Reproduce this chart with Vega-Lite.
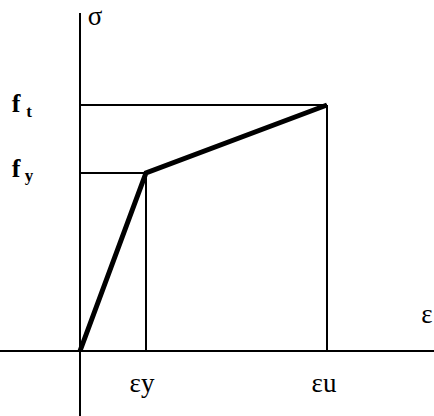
{
  "$schema": "https://vega.github.io/schema/vega-lite/v6.json",
  "width": 434,
  "height": 416,
  "autosize": "none",
  "padding": 0,
  "background": "white",
  "config": {"view": {"stroke": null}},
  "datasets": {
    "thin": [
      {"x": -80, "y": 0, "x2": 354, "y2": 0},
      {"x": 0, "y": -65, "x2": 0, "y2": 338},
      {"x": 0, "y": 246, "x2": 247, "y2": 246},
      {"x": 247, "y": 246, "x2": 247, "y2": 0},
      {"x": 0, "y": 178, "x2": 66, "y2": 178},
      {"x": 66, "y": 178, "x2": 66, "y2": 0}
    ],
    "curve": [
      {"x": 0, "y": 0, "order": 1},
      {"x": 66, "y": 178, "order": 2},
      {"x": 247, "y": 246, "order": 3}
    ],
    "greek": [
      {"label": "σ", "x": 15, "y": 326},
      {"label": "ε", "x": 347, "y": 28},
      {"label": "εy", "x": 62, "y": -41},
      {"label": "εu", "x": 244, "y": -41}
    ],
    "fs": [
      {"label": "f", "x": -64, "y": 239},
      {"label": "f", "x": -64, "y": 174}
    ],
    "subs": [
      {"label": "t", "x": -51, "y": 234},
      {"label": "y", "x": -51, "y": 170}
    ]
  },
  "encoding": {
    "x": {"field": "x", "type": "quantitative", "scale": {"domain": [-80, 354], "nice": false, "zero": false}, "axis": null},
    "y": {"field": "y", "type": "quantitative", "scale": {"domain": [-65, 351], "nice": false, "zero": false}, "axis": null}
  },
  "layer": [
    {
      "data": {"name": "thin"},
      "mark": {"type": "rule", "color": "black", "strokeWidth": 2},
      "encoding": {"x2": {"field": "x2"}, "y2": {"field": "y2"}}
    },
    {
      "data": {"name": "curve"},
      "mark": {"type": "line", "color": "black", "strokeWidth": 5, "strokeJoin": "miter"},
      "encoding": {"order": {"field": "order", "type": "quantitative"}}
    },
    {
      "data": {"name": "greek"},
      "mark": {"type": "text", "font": "Liberation Serif", "fontSize": 27, "baseline": "alphabetic", "align": "center", "color": "black"},
      "encoding": {"text": {"field": "label"}}
    },
    {
      "data": {"name": "fs"},
      "mark": {"type": "text", "font": "Liberation Serif", "fontSize": 26, "fontWeight": "bold", "baseline": "alphabetic", "align": "center", "color": "black"},
      "encoding": {"text": {"field": "label"}}
    },
    {
      "data": {"name": "subs"},
      "mark": {"type": "text", "font": "Liberation Serif", "fontSize": 17, "fontWeight": "bold", "baseline": "alphabetic", "align": "center", "color": "black"},
      "encoding": {"text": {"field": "label"}}
    }
  ]
}
